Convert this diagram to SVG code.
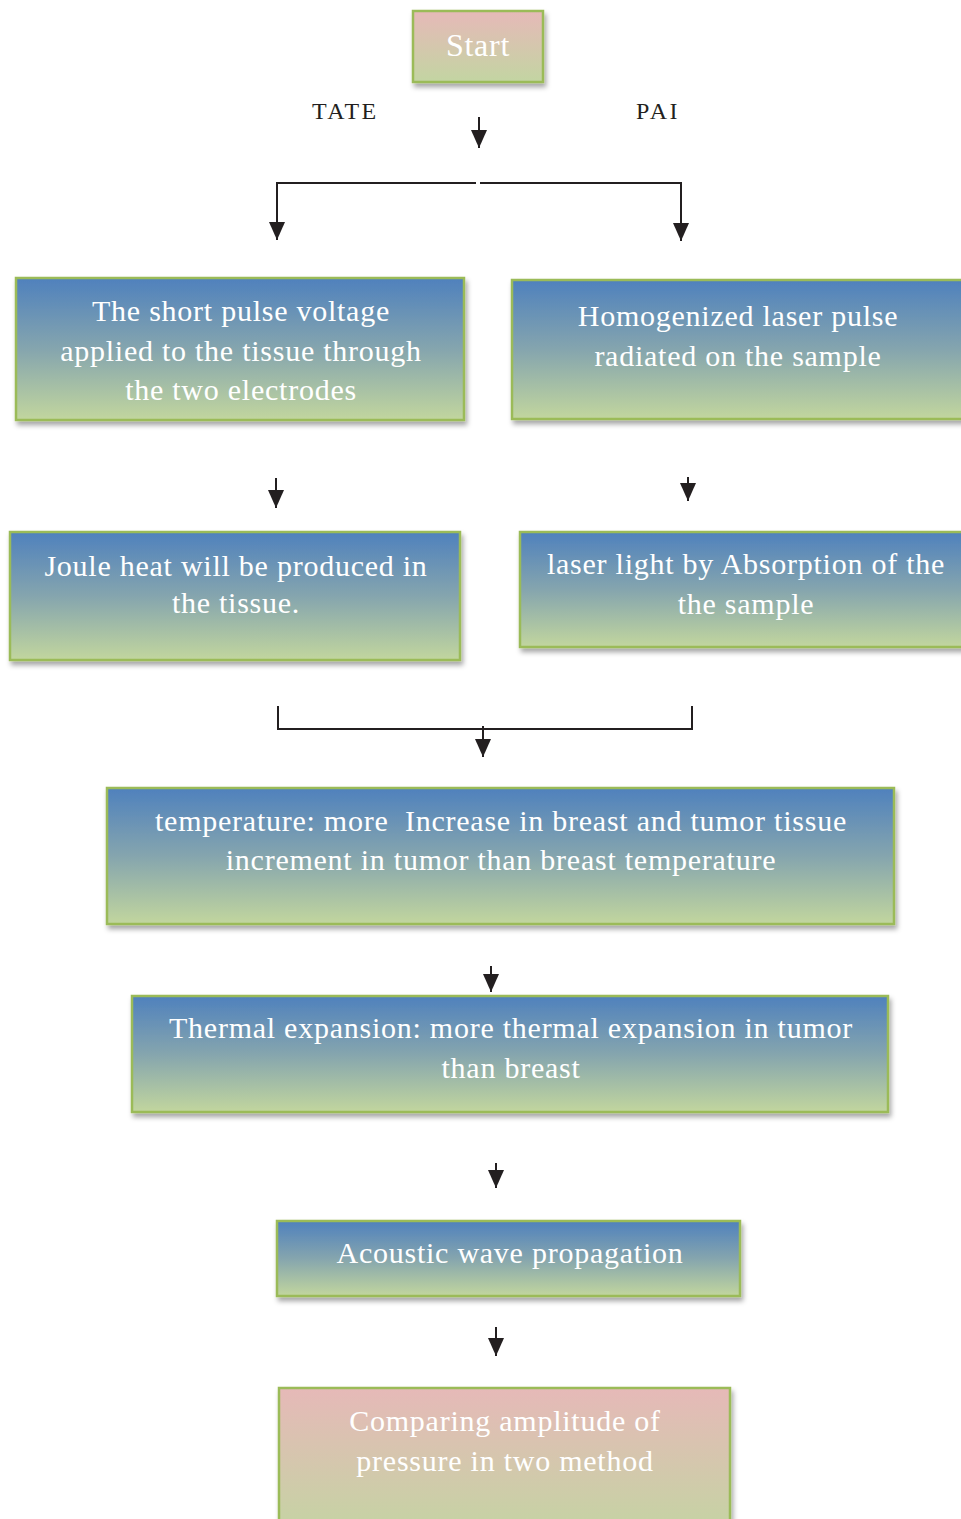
<svg xmlns="http://www.w3.org/2000/svg" width="961" height="1519" viewBox="0 0 961 1519">
<defs>
<linearGradient id="gBlue" x1="0" y1="0" x2="0" y2="1">
<stop offset="0" stop-color="#4F81BD"/>
<stop offset="0.5" stop-color="#85A5AE"/>
<stop offset="1" stop-color="#C2D69E"/>
</linearGradient>
<linearGradient id="gPink" x1="0" y1="0" x2="0" y2="1">
<stop offset="0" stop-color="#E6B9B8"/>
<stop offset="1" stop-color="#C3D5A2"/>
</linearGradient>
<filter id="sh" x="-5%" y="-10%" width="115%" height="130%">
<feDropShadow dx="2" dy="4" stdDeviation="2.5" flood-color="#000" flood-opacity="0.35"/>
</filter>
<marker id="ah" viewBox="0 0 18 16" refX="18" refY="8" markerWidth="18" markerHeight="16" markerUnits="userSpaceOnUse" orient="auto">
<path d="M0,0 L18,8 L0,16 Z" fill="#231F20"/>
</marker>
</defs>
<style>
.box{stroke:#9BBB59;stroke-width:2.5;filter:url(#sh)}
.blue{fill:url(#gBlue)}
.pink{fill:url(#gPink)}
.t{font-family:"Liberation Serif","Times New Roman",serif;fill:#FFFFFF;font-size:30px;text-anchor:middle;letter-spacing:0.75px}
.lbl{font-family:"Liberation Serif","Times New Roman",serif;fill:#231F20;font-size:24px;letter-spacing:2.5px}
.ln{stroke:#231F20;stroke-width:2;fill:none}
</style>

<g id="start">
<rect class="box pink" x="413" y="11" width="130" height="71"/>
<text class="t" x="478" y="56" style="font-size:32px">Start</text>
</g>

<g id="labels">
<text class="lbl" x="312" y="119">TATE</text>
<text class="lbl" x="636" y="119">PAI</text>
</g>

<g id="n1">
<rect class="box blue" x="16" y="278" width="448" height="142"/>
<text class="t" x="241" y="321">The short pulse voltage</text>
<text class="t" x="241" y="361">applied to the tissue through</text>
<text class="t" x="241" y="400">the two electrodes</text>
</g>

<g id="n2">
<rect class="box blue" x="512" y="280" width="470" height="139"/>
<text class="t" x="738" y="326">Homogenized laser pulse</text>
<text class="t" x="738" y="366">radiated on the sample</text>
</g>

<g id="n3">
<rect class="box blue" x="10" y="532" width="450" height="128"/>
<text class="t" x="236" y="576">Joule heat will be produced in</text>
<text class="t" x="236" y="613">the tissue.</text>
</g>

<g id="n4">
<rect class="box blue" x="520" y="532" width="462" height="115"/>
<text class="t" x="746" y="574">laser light by Absorption of the</text>
<text class="t" x="746" y="614">the sample</text>
</g>

<g id="n5">
<rect class="box blue" x="107" y="788" width="787" height="136"/>
<text class="t" x="501" y="831" xml:space="preserve">temperature: more  Increase in breast and tumor tissue</text>
<text class="t" x="501" y="870">increment in tumor than breast temperature</text>
</g>

<g id="n6">
<rect class="box blue" x="132" y="996" width="756" height="116"/>
<text class="t" x="511" y="1038">Thermal expansion: more thermal expansion in tumor</text>
<text class="t" x="511" y="1078">than breast</text>
</g>

<g id="n7">
<rect class="box blue" x="277" y="1221" width="463" height="75"/>
<text class="t" x="510" y="1263">Acoustic wave propagation</text>
</g>

<g id="n8">
<rect class="box pink" x="279" y="1388" width="451" height="150"/>
<text class="t" x="505" y="1431">Comparing amplitude of</text>
<text class="t" x="505" y="1471">pressure in two method</text>
</g>

<g id="connectors">
<line class="ln" x1="479" y1="117" x2="479" y2="148" marker-end="url(#ah)"/>
<path class="ln" d="M277,240 V183 H476"/>
<path class="ln" d="M480,183 H681 V241"/>
<line class="ln" x1="277" y1="220" x2="277" y2="240" marker-end="url(#ah)"/>
<line class="ln" x1="681" y1="221" x2="681" y2="241" marker-end="url(#ah)"/>
<line class="ln" x1="276" y1="478" x2="276" y2="508" marker-end="url(#ah)"/>
<line class="ln" x1="688" y1="477" x2="688" y2="501" marker-end="url(#ah)"/>
<path class="ln" d="M278,706 V729 H692 V706"/>
<line class="ln" x1="483" y1="726" x2="483" y2="757" marker-end="url(#ah)"/>
<line class="ln" x1="491" y1="966" x2="491" y2="992" marker-end="url(#ah)"/>
<line class="ln" x1="496" y1="1163" x2="496" y2="1188" marker-end="url(#ah)"/>
<line class="ln" x1="496" y1="1327" x2="496" y2="1356" marker-end="url(#ah)"/>
</g>
</svg>
